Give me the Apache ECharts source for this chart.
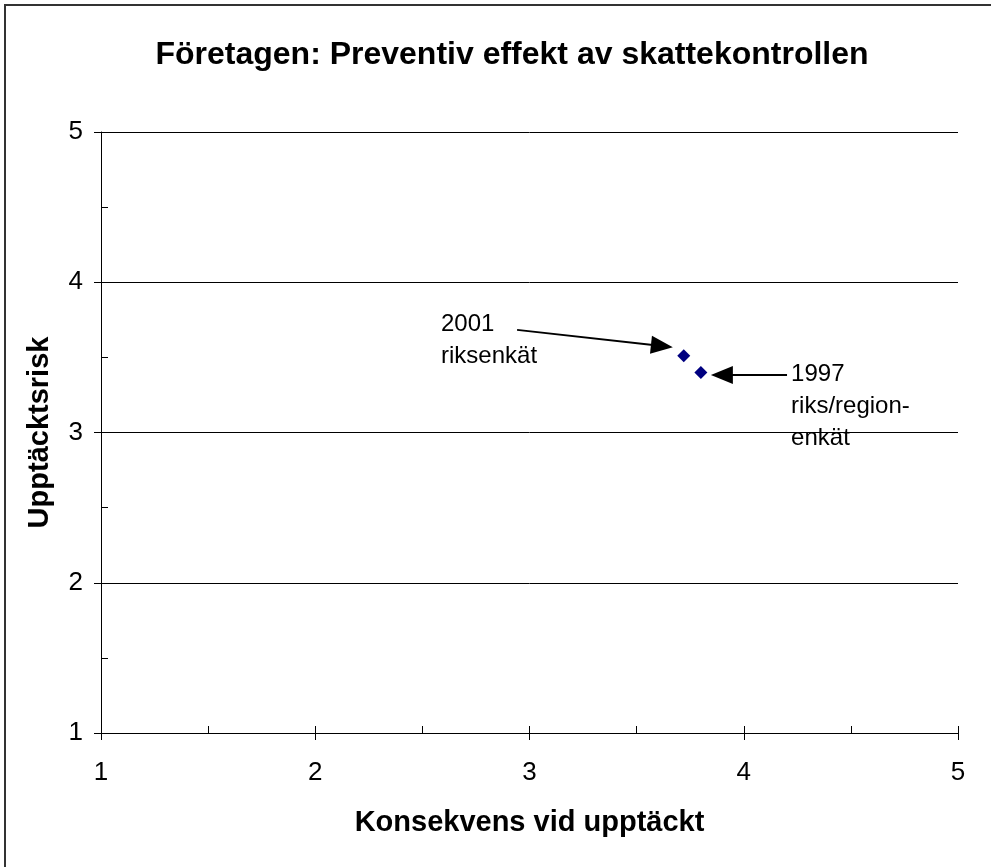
<!DOCTYPE html>
<html>
<head>
<meta charset="utf-8">
<script src="https://cdn.jsdelivr.net/npm/echarts@6/dist/echarts.min.js"></script>
<style>
  html, body { margin: 0; padding: 0; background: #fff; }
  #chart { width: 991px; height: 867px; }
</style>
</head>
<body>
<div id="chart"></div>
<script>
// Survey results: consequence on detection (x) vs. detection risk (y)
const surveyNames = ['2001 riksenkät', '1997 riks/region-enkät'];
const consequence = [3.72, 3.80];
const detectionRisk = [3.51, 3.40];

// Axis ticks
const xTicks = [1, 2, 3, 4, 5];
const yTicks = [1, 2, 3, 4, 5];

// Callout text and arrows, in data units (arrow end = centre of the arrowhead)
const calloutTexts = ['2001\nriksenkät', '1997\nriks/region-\nenkät'];
const calloutAnchors = [[2.587, 3.825], [4.221, 3.496]];
const arrowFrom = [[2.942, 3.683], [4.202, 3.383]];
const arrowTo = [[3.618, 3.576], [3.898, 3.383]];

const FONT = "'Liberation Sans', Arial, sans-serif";

const points = consequence.map((x, i) => ({ name: surveyNames[i], value: [x, detectionRisk[i]] }));

const chart = echarts.init(document.getElementById('chart'), null, { renderer: 'canvas' });

chart.setOption({
  backgroundColor: '#fff',
  animation: false,
  textStyle: { fontFamily: FONT },
  title: {
    text: 'Företagen: Preventiv effekt av skattekontrollen',
    left: 507,
    textAlign: 'center',
    top: 34,
    textStyle: { fontFamily: FONT, fontSize: 32, fontWeight: 'bold', color: '#000' }
  },
  graphic: [{
    type: 'rect',
    shape: { x: 5, y: 5, width: 1000, height: 1000 },
    style: { fill: 'none', stroke: '#333', lineWidth: 2 },
    silent: true
  }],
  grid: { left: 101, right: 33, top: 132, bottom: 134 },
  xAxis: [{
    type: 'value',
    min: xTicks[0], max: xTicks[xTicks.length - 1], interval: 1,
    position: 'bottom',
    axisLine: { show: true, onZero: false, lineStyle: { color: '#000', width: 1 } },
    axisTick: { show: true, inside: false, length: 7, lineStyle: { color: '#000' } },
    axisLabel: { show: true, margin: 27, fontSize: 26, color: '#000', fontFamily: FONT },
    splitLine: { show: false },
    name: 'Konsekvens vid upptäckt',
    nameLocation: 'middle',
    nameGap: 75,
    nameTextStyle: { fontFamily: FONT, fontSize: 29, fontWeight: 'bold', color: '#000' }
  }, {
    type: 'value',
    min: 1, max: 5, interval: 0.5,
    position: 'bottom',
    axisLine: { show: false },
    axisTick: { show: true, inside: true, length: 7, lineStyle: { color: '#000' } },
    axisLabel: { show: false },
    splitLine: { show: false }
  }],
  yAxis: [{
    type: 'value',
    min: yTicks[0], max: yTicks[yTicks.length - 1], interval: 1,
    position: 'left',
    axisLine: { show: true, onZero: false, lineStyle: { color: '#000', width: 1 } },
    axisTick: { show: true, inside: false, length: 7, lineStyle: { color: '#000' } },
    axisLabel: { show: true, margin: 18, fontSize: 26, color: '#000', fontFamily: FONT },
    splitLine: { show: true, lineStyle: { color: '#000', width: 1 } },
    name: 'Upptäcktsrisk',
    nameLocation: 'middle',
    nameGap: 47,
    nameRotate: 90,
    nameTextStyle: { fontFamily: FONT, fontSize: 29, fontWeight: 'bold', color: '#000' }
  }, {
    type: 'value',
    min: 1, max: 5, interval: 0.5,
    position: 'left',
    axisLine: { show: false },
    axisTick: { show: true, inside: true, length: 7, lineStyle: { color: '#000' } },
    axisLabel: { show: false },
    splitLine: { show: false }
  }],
  series: [{
    type: 'scatter',
    xAxisIndex: 0,
    yAxisIndex: 0,
    symbol: 'diamond',
    symbolSize: 13,
    itemStyle: { color: '#000080', opacity: 1 },
    data: points,
    markLine: {
      silent: true,
      symbol: ['none', 'triangle'],
      symbolSize: [18, 22],
      label: { show: false },
      lineStyle: { color: '#000', width: 2, type: 'solid' },
      itemStyle: { color: '#000' },
      data: arrowFrom.map((p, i) => [{ coord: p }, { coord: arrowTo[i] }])
    },
    markPoint: {
      silent: true,
      symbol: 'circle',
      symbolSize: 0,
      data: calloutTexts.map((t, i) => ({
        coord: calloutAnchors[i],
        label: {
          show: true,
          formatter: t,
          position: [0, 0],
          align: 'left',
          verticalAlign: 'top',
          fontFamily: FONT,
          fontSize: 24,
          lineHeight: 32,
          color: '#000'
        }
      }))
    }
  }]
});
</script>
</body>
</html>
